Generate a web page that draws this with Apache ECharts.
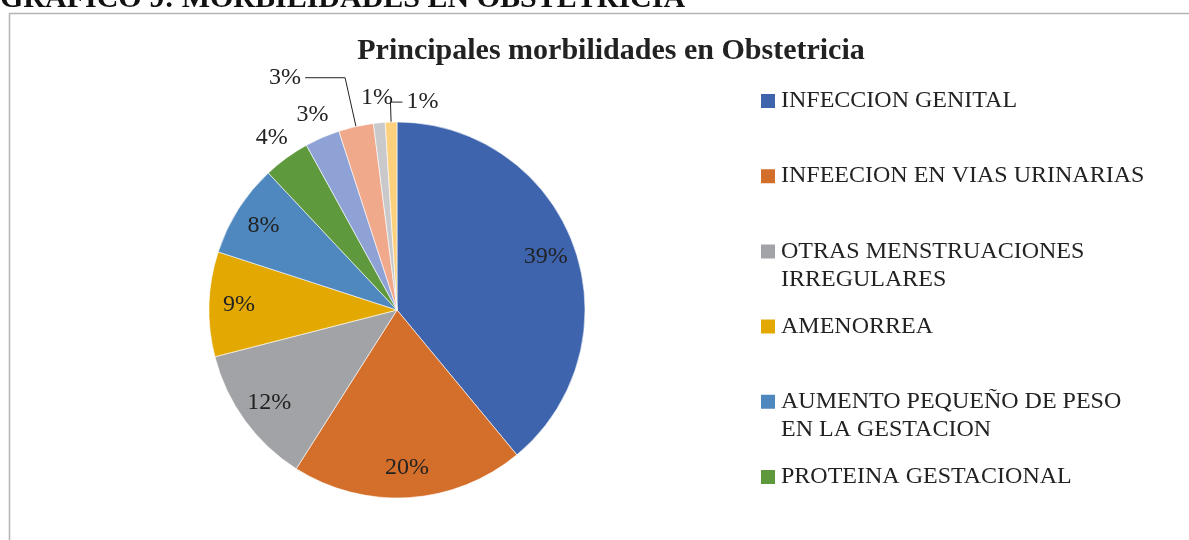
<!DOCTYPE html>
<html>
<head>
<meta charset="utf-8">
<script src="https://cdn.jsdelivr.net/npm/echarts@6/dist/echarts.min.js"></script>
<style>
  html, body { margin: 0; padding: 0; background: #ffffff; }
  #chart { width: 1189px; height: 540px; }
</style>
</head>
<body>
<div id="chart"></div>
<script>
// Pie data: share (%) of each obstetric morbidity, clockwise from 12 o'clock
const categories = [
  'INFECCION GENITAL',
  'INFEECION EN VIAS URINARIAS',
  'OTRAS MENSTRUACIONES IRREGULARES',
  'AMENORREA',
  'AUMENTO PEQUEÑO DE PESO EN LA GESTACION',
  'PROTEINA GESTACIONAL',
  'OTRAS CAUSAS 1',
  'OTRAS CAUSAS 2',
  'OTRAS CAUSAS 3',
  'OTRAS CAUSAS 4'
];
const values = [39, 20, 12, 9, 8, 4, 3, 3, 1, 1];
const colors = ['#3E64AE', '#D46F2B', '#A2A3A6', '#E3A902', '#4F88BE',
                '#5F993D', '#8EA2D6', '#F1A98C', '#C9C9CB', '#FDD07E'];
const legendCount = 6;   // only the first entries fit in the legend column
const chartTitle = 'Principales morbilidades en Obstetricia';
const pageHeading = 'GRAFICO 9: MORBILIDADES EN OBSTETRICIA';

// Layout settings
const SERIF = '"Liberation Serif", "Times New Roman", serif';
const CX = 397, CY = 310, R = 188;
const leaderIdx = [7, 9];       // labels drawn with a leader line
const flipIdx = 9;              // leader line that turns right
const LEG_FONT = 24, LEG_LH = 28, LEG_WRAP = 365;

const measureCtx = document.createElement('canvas').getContext('2d');
measureCtx.font = LEG_FONT + 'px ' + SERIF;
function wrapLines(text) {
  const words = text.split(' ');
  const lines = [];
  let cur = '';
  words.forEach(w => {
    const t = cur ? cur + ' ' + w : w;
    if (cur && measureCtx.measureText(t).width > LEG_WRAP) { lines.push(cur); cur = w; }
    else cur = t;
  });
  lines.push(cur);
  return lines;
}
// A blank first line keeps the first text line level with the legend square
function legendText(name) {
  const lines = wrapLines(name);
  return lines.length > 1 ? '\n' + lines.join('\n') : lines[0];
}

const legends = categories.slice(0, legendCount).map((name, i) => {
  const n = wrapLines(name).length;
  const nLines = n > 1 ? n + 1 : 1;
  const firstLineY = 101 + 75.2 * i;
  return {
    show: true,
    orient: 'vertical',
    left: 759,
    top: firstLineY - nLines * LEG_LH / 2,
    padding: 0,
    data: [name],
    icon: 'rect',
    itemWidth: 16,
    itemHeight: 16,
    itemGap: 0,
    selectedMode: false,
    formatter: legendText,
    textStyle: { fontFamily: SERIF, fontSize: LEG_FONT, color: '#222', lineHeight: LEG_LH }
  };
});

const labelBase = { fontFamily: SERIF, fontSize: 24, color: '#222', formatter: '{c}%' };

const mainData = categories.map((name, i) => {
  const withLine = leaderIdx.includes(i);
  return {
    name: name,
    value: values[i],
    itemStyle: { color: colors[i] },
    label: { show: withLine },
    labelLine: withLine
      ? { show: true, length: i === flipIdx ? 20 : 50, length2: i === flipIdx ? 12 : 40 }
      : { show: false }
  };
});

// Transparent ring whose 'inside' labels sit near the rim of the large slices
const innerRing = categories.map((name, i) => ({
  name: name, value: values[i],
  label: { show: values[i] >= 8 }
}));
// Transparent ring just outside the pie for the small unlinked labels
const outerRing = categories.map((name, i) => ({
  name: name, value: values[i],
  label: { show: values[i] < 8 && !leaderIdx.includes(i) }
}));

const ringBase = {
  type: 'pie',
  center: [CX, CY],
  startAngle: 90,
  clockwise: true,
  silent: true,
  legendHoverLink: false,
  avoidLabelOverlap: false,
  animation: false,
  itemStyle: { color: 'rgba(0,0,0,0)', borderWidth: 0 },
  emphasis: { disabled: true },
  labelLine: { show: false },
  label: Object.assign({ position: 'inside' }, labelBase)
};

const option = {
  backgroundColor: '#ffffff',
  animation: false,
  title: {
    text: chartTitle,
    left: 606,
    top: 31,
    textAlign: 'center',
    textStyle: { fontFamily: SERIF, fontSize: 30, fontWeight: 'bold', color: '#222' }
  },
  legend: legends,
  graphic: [
    {
      type: 'rect',
      shape: { x: 9.5, y: 13.5, width: 1400, height: 800 },
      style: { fill: 'none', stroke: '#b4b4b4', lineWidth: 1.5 },
      silent: true
    },
    {
      type: 'text',
      x: 0, y: 14,
      style: {
        text: pageHeading,
        font: 'bold 30px ' + SERIF,
        fill: '#111',
        verticalAlign: 'bottom'
      },
      silent: true
    }
  ],
  series: [
    {
      type: 'pie',
      center: [CX, CY],
      radius: [0, R],
      startAngle: 90,
      clockwise: true,
      avoidLabelOverlap: false,
      animation: false,
      itemStyle: { borderColor: '#ffffff', borderWidth: 0.6 },
      emphasis: { scale: false },
      label: Object.assign({ position: 'outside', distanceToLabelLine: 4 }, labelBase),
      labelLine: { lineStyle: { color: '#222', width: 1 } },
      labelLayout: function (params) {
        if (params.dataIndex !== flipIdx || !params.labelLinePoints) return {};
        const p = params.labelLinePoints;
        const end = [2 * p[1][0] - p[2][0], p[2][1]];
        return {
          x: end[0] + 4,
          y: end[1],
          align: 'left',
          verticalAlign: 'middle',
          labelLinePoints: [p[0], p[1], end]
        };
      },
      data: mainData
    },
    Object.assign({}, ringBase, { radius: [122, R], data: innerRing }),
    Object.assign({}, ringBase, { radius: [R, 232], data: outerRing })
  ]
};

const chart = echarts.init(document.getElementById('chart'), null, { renderer: 'canvas' });
chart.setOption(option);
</script>
</body>
</html>
